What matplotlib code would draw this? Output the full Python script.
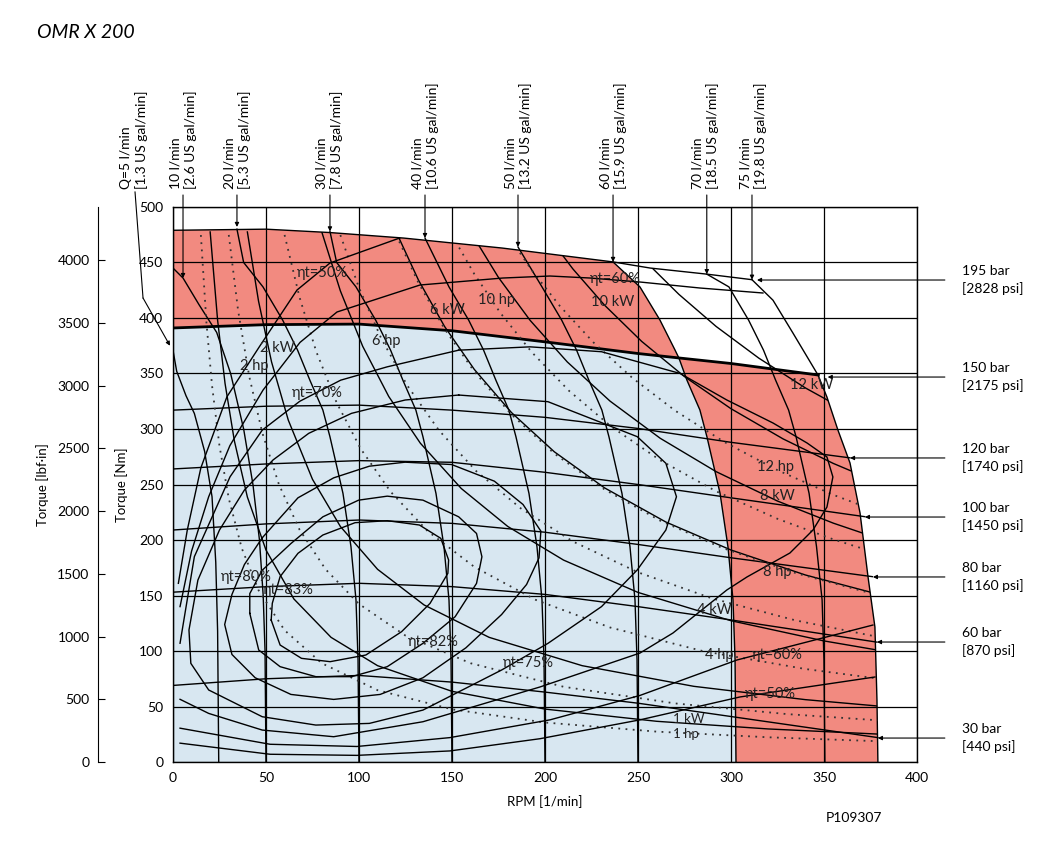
import numpy as np
import matplotlib.pyplot as plt
from matplotlib.patches import Polygon

plt.rcParams['font.family'] = ['Lato', 'DejaVu Sans']

# ---- envelope lines (rpm, Nm) ----
p195_rpm = [0, 50, 84, 124, 177, 236.6, 256.5, 287, 311.3]
p195_T = [479, 480, 477, 472, 463, 450.5, 445, 439.5, 434.5]

p150_rpm = [0, 50, 100, 150, 200, 250, 272, 300, 347]
p150_T = [391, 394, 394.5, 388.5, 378.5, 368, 364, 359, 348.6]

p120_rpm = [0, 50, 100, 150, 200, 250, 300, 364]
p120_T = [317, 320.5, 321.5, 317, 310.5, 300.5, 288, 274]
p100_rpm = [0, 50, 100, 150, 200, 250, 300, 372]
p100_T = [264, 268.5, 271.5, 270, 261, 250, 238, 221]
p80_rpm = [0, 50, 100, 150, 200, 250, 300, 376]
p80_T = [209, 214.5, 218, 215, 207, 196, 184, 167]
p60_rpm = [0, 50, 100, 150, 200, 250, 300, 378.5]
p60_T = [153, 158, 161, 158, 151, 140, 128, 108]
p30_rpm = [0, 50, 100, 150, 200, 250, 300, 379]
p30_T = [69, 75, 78, 72, 63, 53, 41, 22]

# flow lines
q5_rpm = [0, 2, 7, 11.5, 17, 21, 23, 24, 24.6]
q5_T = [371, 352, 330, 314, 280, 239, 180, 118, 0]
q10_rpm = [0, 5.4, 14, 23.5, 31, 38, 43, 46.5, 48.5, 49.5, 50]
q10_T = [445, 436, 412, 387, 350, 300, 250, 200, 150, 100, 0]
q20_rpm = [34.4, 38, 48.4, 59, 67, 73.6, 80.6, 84.4, 91.4, 95.7, 98.4, 99.5, 100]
q20_T = [480, 450, 428, 398, 371, 344, 317, 293, 242, 194, 146, 92, 0]
q30_rpm = [84.4, 88, 98.4, 109, 117, 123.6, 130.6, 134.4, 141.4, 145.7, 148.4, 149.5, 150]
q30_T = [478, 450, 428, 398, 371, 344, 317, 293, 242, 194, 146, 92, 0]
q40_rpm = [135.5, 148.4, 159, 167, 173.6, 180.6, 184.4, 191.4, 195.7, 198.4, 199.5, 200]
q40_T = [472, 428, 398, 371, 344, 317, 293, 242, 194, 146, 92, 0]
q50_rpm = [185.5, 198.4, 209, 217, 223.6, 230.6, 234.4, 241.4, 245.7, 248.4, 249.5, 250]
q50_T = [464, 428, 398, 371, 344, 317, 293, 242, 194, 146, 92, 0]
q60_rpm = [236.6, 251.1, 261.8, 269.9, 272, 276.3, 283.3, 287.1, 294.1, 298.4, 301.1, 302.2, 302.7]
q60_T = [450.5, 427.9, 398.2, 371.2, 364, 344.1, 317.1, 292.8, 242.3, 193.7, 145.9, 91.9, 0]
q70_rpm = [287, 298.9, 309.5, 317.5, 324, 331, 335, 342, 346, 349, 350, 350.5]
q70_T = [439.5, 428, 398, 371, 344, 317, 293, 242, 194, 146, 92, 0]
q75_rpm = [311.3, 322.6, 333.3, 346.8, 351.6, 357.5, 364, 369.4, 373.7, 377.4, 378.5, 379]
q75_T = [434.5, 416, 386.5, 348.6, 328.8, 299.1, 269.4, 224.3, 166.7, 121.6, 55.9, 0]

# power lines: kW solid, hp dotted
kw1_rpm = [20, 24, 28, 33, 40, 50, 65, 85, 110, 150, 200, 260, 320, 380]
kw1_T = [477.5, 397.9, 341.0, 289.4, 238.7, 191.0, 146.9, 112.3, 86.8, 63.7, 47.7, 36.7, 29.8, 25.1]
hp1_rpm = [15, 18, 21, 25, 30, 37, 46, 60, 80, 110, 150, 200, 260, 320, 380]
hp1_T = [474.7, 395.6, 339.1, 284.8, 237.4, 192.5, 154.8, 118.7, 89.0, 64.7, 47.5, 35.6, 27.4, 22.3, 18.7]
kw2_rpm = [40, 46, 53, 62, 75, 90, 110, 135, 170, 220, 280, 340, 380]
kw2_T = [477.5, 415.2, 360.4, 308.0, 254.7, 212.2, 173.6, 141.5, 112.3, 86.8, 68.2, 56.2, 50.3]
hp2_rpm = [30, 35, 41, 48, 57, 68, 82, 100, 125, 160, 210, 270, 330, 380]
hp2_T = [474.8, 406.9, 347.4, 296.7, 249.9, 209.5, 173.7, 142.4, 113.9, 89.0, 67.8, 52.8, 43.2, 37.5]
kw4_rpm = [80, 90, 102, 116, 133, 155, 180, 210, 250, 300, 350, 380]
kw4_T = [477.5, 424.4, 374.5, 329.3, 287.2, 246.4, 212.2, 181.9, 152.8, 127.3, 109.1, 100.5]
hp4_rpm = [60, 68, 77, 88, 101, 117, 137, 162, 195, 235, 285, 340, 380]
hp4_T = [474.8, 418.9, 369.9, 323.7, 282.0, 243.5, 207.9, 175.8, 146.1, 121.2, 99.9, 83.8, 75.0]
kw6_rpm = [120, 132, 146, 162, 182, 205, 232, 265, 300, 340, 380]
kw6_T = [477.5, 434.1, 392.4, 353.7, 314.8, 279.5, 247.0, 216.2, 191.0, 168.5, 150.8]
hp6_rpm = [90, 100, 112, 126, 143, 163, 187, 215, 250, 290, 335, 380]
hp6_T = [474.7, 427.3, 381.5, 339.1, 298.8, 262.1, 228.5, 198.7, 170.9, 147.3, 127.5, 112.4]
kw8_rpm = [160, 175, 192, 212, 235, 262, 292, 325, 355, 380]
kw8_T = [477.5, 436.5, 397.9, 360.4, 325.1, 291.6, 261.6, 235.1, 215.2, 201.0]
hp8_rpm = [120, 132, 146, 162, 182, 205, 232, 262, 295, 335, 380]
hp8_T = [474.8, 431.6, 390.2, 351.7, 313.0, 277.9, 245.6, 217.4, 193.1, 170.1, 149.9]
kw10_rpm = [200, 215, 232, 252, 275, 300, 328, 355, 380]
kw10_T = [477.5, 444.2, 411.6, 378.9, 347.2, 318.3, 291.1, 269.0, 251.3]
hp10_rpm = [150, 162, 176, 193, 213, 236, 262, 292, 325, 355, 380]
hp10_T = [474.7, 439.6, 404.6, 369.0, 334.3, 301.7, 271.8, 243.9, 219.1, 200.6, 187.4]
kw12_rpm = [240, 255, 272, 292, 315, 340, 365, 380]
kw12_T = [477.5, 449.4, 421.3, 392.4, 363.8, 337.0, 313.9, 301.6]
hp12_rpm = [180, 193, 208, 226, 247, 270, 296, 325, 355, 380]
hp12_T = [474.8, 442.8, 410.8, 378.1, 346.0, 316.5, 288.7, 262.9, 240.7, 224.9]

# total efficiency contours
e83_rpm = [52.8, 57.6, 69.1, 84.5, 103.7, 122.9, 138.2, 147.8, 148.2, 144.0, 132.5, 115.2, 97.9, 80.6,
           67.2, 57.6, 53.4, 52.8]
e83_T = [127.9, 105.4, 93.4, 90.4, 96.4, 117.4, 142.9, 170.0, 182.0, 201.5, 213.5, 217.4, 215.6, 204.5,
         188.0, 167.0, 143.0, 127.9]
e82_rpm = [41.3, 46.1, 57.6, 76.8, 96.0, 115.2, 134.4, 151.7, 163.2, 166.1, 163.2, 153.6, 134.4, 115.2,
           99.8, 80.6, 63.4, 48.0, 41.3, 41.3]
e82_T = [133.9, 100.9, 85.9, 76.9, 76.9, 85.9, 106.9, 130.9, 160.9, 184.9, 205.9, 220.9, 235.9, 239.5,
         235.9, 220.9, 196.8, 172.8, 151.7, 133.9]
e80_rpm = [48.0, 67.2, 86.4, 105.6, 124.8, 149.8, 172.8, 188.2, 197.8, 196.8, 190.1, 176.7, 157.5, 134.4,
           111.4, 86.4, 63.4, 44.2, 31.7, 27.8, 31.7, 38.4, 48.0]
e80_T = [202.0, 238.0, 256.0, 266.5, 270.1, 268.0, 253.0, 232.0, 208.0, 183.9, 159.9, 132.9, 102.9, 75.9,
         60.9, 56.4, 60.9, 75.9, 96.9, 123.9, 150.9, 177.9, 202.0]
e75_rpm = [153.6, 201.6, 249.6, 265.0, 270.7, 265.0, 249.6, 230.4, 201.6, 176.7, 134.4, 105.6, 76.8, 48.0,
           19.2, 9.6, 8.6, 13.4, 25.0, 38.4, 53.8, 73.0, 96.0, 124.8, 153.6]
e75_T = [330.6, 324.6, 293.1, 269.1, 239.0, 209.0, 173.0, 140.0, 106.9, 82.9, 46.8, 34.8, 33.3, 40.8,
         64.9, 88.9, 118.9, 163.9, 209.0, 245.0, 272.1, 296.1, 314.1, 326.1, 330.6]
e70_rpm = [3.8, 11.5, 30.7, 48.0, 68.2, 90.2, 115.2, 153.6, 192.0, 230.4, 272.7, 297.8, 322.6, 340.9,
           351.6, 354.8, 351.6, 344.1, 331.7, 308.6, 297.8, 268.8, 251.1, 197.3, 134.4, 86.4, 48.0, 19.2, 3.8]
e70_T = [107.0, 185.0, 257.0, 299.0, 325.0, 344.0, 356.0, 371.0, 374.0, 369.6, 350.0, 326.1, 305.4, 287.4,
         274.8, 256.8, 229.7, 209.0, 188.3, 166.7, 155.0, 116.2, 98.2, 67.6, 36.3, 22.8, 28.8, 43.8, 56.5]
e60a_rpm = [3.8, 10.0, 19.2, 30.6, 48.4, 68.3, 88.2, 132.8, 177.4, 202.7, 224.2, 251.1, 283.3, 317.2]
e60a_T = [140.0, 190.0, 239.0, 285.0, 335.0, 378.0, 405.4, 429.7, 436.0, 437.8, 436.0, 432.4, 427.0, 422.5]
e60b_rpm = [376.3, 303.2, 251.1, 202.7, 148.9, 98.9, 52.2, 3.8]
e60b_T = [123.4, 91.9, 60.0, 38.0, 22.0, 14.0, 16.0, 30.5]
e50a_rpm = [2.9, 7.7, 15.0, 29.0, 46.8, 66.7, 84.4, 122.0]
e50a_T = [161.0, 209.0, 265.0, 329.0, 375.0, 425.2, 449.5, 472.1]
e50b_rpm = [377.4, 304.8, 251.1, 197.3, 148.9, 98.9, 52.2, 3.8]
e50b_T = [76.6, 58.6, 38.0, 21.0, 10.0, 6.0, 7.0, 17.0]

# flow labels above the chart
flow_text = ['Q=5 l/min\n[1.3 US gal/min]', '10 l/min\n[2.6 US gal/min]', '20 l/min\n[5.3 US gal/min]',
             '30 l/min\n[7.8 US gal/min]', '40 l/min\n[10.6 US gal/min]', '50 l/min\n[13.2 US gal/min]',
             '60 l/min\n[15.9 US gal/min]', '70 l/min\n[18.5 US gal/min]', '75 l/min\n[19.8 US gal/min]']
flow_x = [-21, 5.4, 34.4, 84.0, 135.5, 185.5, 236.6, 286.0, 311.8]
flow_tip_x = [-1.6, 5.4, 34.4, 84.4, 135.5, 185.5, 236.6, 287, 311.3]
flow_tip_T = [375, 436, 482, 478, 472, 464, 450.5, 439.5, 434.5]

# pressure labels at right
bar_text = ['195 bar\n[2828 psi]', '150 bar\n[2175 psi]', '120 bar\n[1740 psi]', '100 bar\n[1450 psi]',
            '80 bar\n[1160 psi]', '60 bar\n[870 psi]', '30 bar\n[440 psi]']
bar_T = [434.2, 346.8, 273.9, 220.7, 166.7, 108.1, 21.6]
bar_tip = [314, 352, 364, 372, 376.3, 378.5, 379]

# in-chart labels (text, rpm, Nm)
labels = [('ηt=50%', 66.7, 440.5), ('6 kW', 138, 407), ('10 hp', 164, 416), ('ηt=60%', 224, 435),
          ('10 kW', 225, 414), ('6 hp', 107, 379), ('2 kW', 46.8, 373), ('2 hp', 36, 357),
          ('ηt=70%', 64, 332), ('12 kW', 331.7, 339.6), ('12 hp', 314, 265.8), ('8 kW', 315.6, 239.6),
          ('8 hp', 317, 171), ('ηt=80%', 25.8, 166.7), ('ηt=83%', 48.4, 155), ('ηt=82%', 126.3, 108),
          ('ηt=75%', 177.4, 89.2), ('4 kW', 281.7, 137), ('4 hp', 286, 96.4), ('ηt=60%', 311, 96.4),
          ('ηt=50%', 307.5, 61)]
small_labels = [('1 kW', 268.8, 38.5), ('1 hp', 268.8, 25.0)]

RED = '#f28a80'
BLUE = '#d8e7f1'

fig = plt.figure(figsize=(10.42, 8.41), dpi=100)
ax = fig.add_axes([0.166, 0.0939, 0.714, 0.660])
ax.set_xlim(0, 400)
ax.set_ylim(0, 500)

# fills
r60 = np.array(q60_rpm); t60 = np.array(q60_T)
r150 = np.array(p150_rpm); t150 = np.array(p150_T)
r75 = np.array(q75_rpm); t75 = np.array(q75_T)
red_xy = (list(zip(p195_rpm[:6], p195_T[:6])) + list(zip(r60[t60 > 364], t60[t60 > 364]))
          + list(zip(r150[r150 >= 272], t150[r150 >= 272])) + list(zip(r75[t75 < 348.6], t75[t75 < 348.6]))
          + [(0, 0)])
blue_xy = (list(zip(r150[r150 <= 272], t150[r150 <= 272])) + list(zip(r60[t60 < 364], t60[t60 < 364]))
           + [(0, 0)])
ax.add_patch(Polygon(red_xy, closed=True, fc=RED, ec='none', zorder=0.3))
ax.add_patch(Polygon(blue_xy, closed=True, fc=BLUE, ec='none', zorder=0.4))

env = Polygon(list(zip(p195_rpm, p195_T)) + list(zip(q75_rpm[1:], q75_T[1:])) + [(0, 0)],
              closed=True, transform=ax.transData)

ax.set_xticks(np.arange(0, 401, 50))
ax.set_yticks(np.arange(0, 501, 50))
ax.grid(True, color='k', lw=0.9)
ax.set_axisbelow('line')
ax.tick_params(length=0, labelsize=10, pad=7)
for s in ax.spines.values():
    s.set_linewidth(1.0)

lw = 1.0
# pressure lines
ax.plot(p195_rpm, p195_T, 'k-', lw=lw)
ax.plot(p150_rpm, p150_T, 'k-', lw=2.0)
for r, t in [(p120_rpm, p120_T), (p100_rpm, p100_T), (p80_rpm, p80_T), (p60_rpm, p60_T), (p30_rpm, p30_T)]:
    ax.plot(r, t, 'k-', lw=lw)
# flow lines
for r, t in [(q5_rpm, q5_T), (q10_rpm, q10_T), (q20_rpm, q20_T), (q30_rpm, q30_T), (q40_rpm, q40_T),
             (q50_rpm, q50_T), (q60_rpm, q60_T), (q70_rpm, q70_T), (q75_rpm, q75_T)]:
    ax.plot(r, t, 'k-', lw=lw)
# power lines
for r, t in [(kw1_rpm, kw1_T), (kw2_rpm, kw2_T), (kw4_rpm, kw4_T), (kw6_rpm, kw6_T),
             (kw8_rpm, kw8_T), (kw10_rpm, kw10_T), (kw12_rpm, kw12_T)]:
    ln, = ax.plot(r, t, 'k-', lw=lw)
    ln.set_clip_path(env)
for r, t in [(hp1_rpm, hp1_T), (hp2_rpm, hp2_T), (hp4_rpm, hp4_T), (hp6_rpm, hp6_T),
             (hp8_rpm, hp8_T), (hp10_rpm, hp10_T), (hp12_rpm, hp12_T)]:
    ln, = ax.plot(r, t, color='#333333', lw=1.3, linestyle=(0, (1, 3)))
    ln.set_clip_path(env)
# efficiency contours
for r, t in [(e83_rpm, e83_T), (e82_rpm, e82_T), (e80_rpm, e80_T), (e75_rpm, e75_T), (e70_rpm, e70_T),
             (e60a_rpm, e60a_T), (e60b_rpm, e60b_T), (e50a_rpm, e50a_T), (e50b_rpm, e50b_T)]:
    ln, = ax.plot(r, t, 'k-', lw=lw)
    ln.set_clip_path(env)

for txt, x, y in labels:
    ax.text(x, y, txt, fontsize=10.5, ha='left', va='center', color='#222222', zorder=5)
for txt, x, y in small_labels:
    ax.text(x, y, txt, fontsize=9.5, ha='left', va='center', color='#222222', zorder=5)

# flow labels + leaders
top_T = 510.8
for txt, x in zip(flow_text, flow_x):
    ax.text(x, 516, txt, rotation=90, ha='center', va='bottom', multialignment='left',
            fontsize=10, linespacing=1.25, clip_on=False)
for i, (tx, tt) in enumerate(zip(flow_tip_x, flow_tip_T)):
    if i == 0:
        ax.plot([-20.4, -16.1], [513.5, 418], 'k-', lw=0.8, clip_on=False)
        start = (-16.1, 418)
    else:
        start = (tx, top_T)
    ax.annotate('', xy=(tx, tt), xytext=start, annotation_clip=False,
                arrowprops=dict(arrowstyle='-|>', lw=0.8, color='k', mutation_scale=6,
                                shrinkA=0, shrinkB=0))

# pressure labels
for txt, t, tip in zip(bar_text, bar_T, bar_tip):
    ax.annotate('', xy=(tip, t), xytext=(415, t), annotation_clip=False,
                arrowprops=dict(arrowstyle='-|>', lw=0.8, color='k', mutation_scale=6,
                                shrinkA=0, shrinkB=0))
    ax.text(424, t, txt, fontsize=10, ha='left', va='center', linespacing=1.4, clip_on=False)

ax.set_xlabel('RPM [1/min]', fontsize=9.5, labelpad=8)
ax.set_ylabel('Torque [Nm]', fontsize=9.5, labelpad=8)

sec = ax.secondary_yaxis(-0.101, functions=(lambda t: t / 0.11298, lambda v: v * 0.11298))
sec.set_yticks(np.arange(0, 4001, 500))
sec.tick_params(direction='in', length=5, labelsize=10, pad=6)
sec.set_ylabel('Torque [lbf·in]', fontsize=9.5, labelpad=6)

fig.text(37 / 1042, 1 - 33 / 841, 'OMR X 200', fontsize=14, style='italic', ha='left', va='center')
fig.text(826 / 1042, 1 - 818 / 841, 'P109307', fontsize=10, ha='left', va='center')

fig.savefig('out.png', dpi=100)
